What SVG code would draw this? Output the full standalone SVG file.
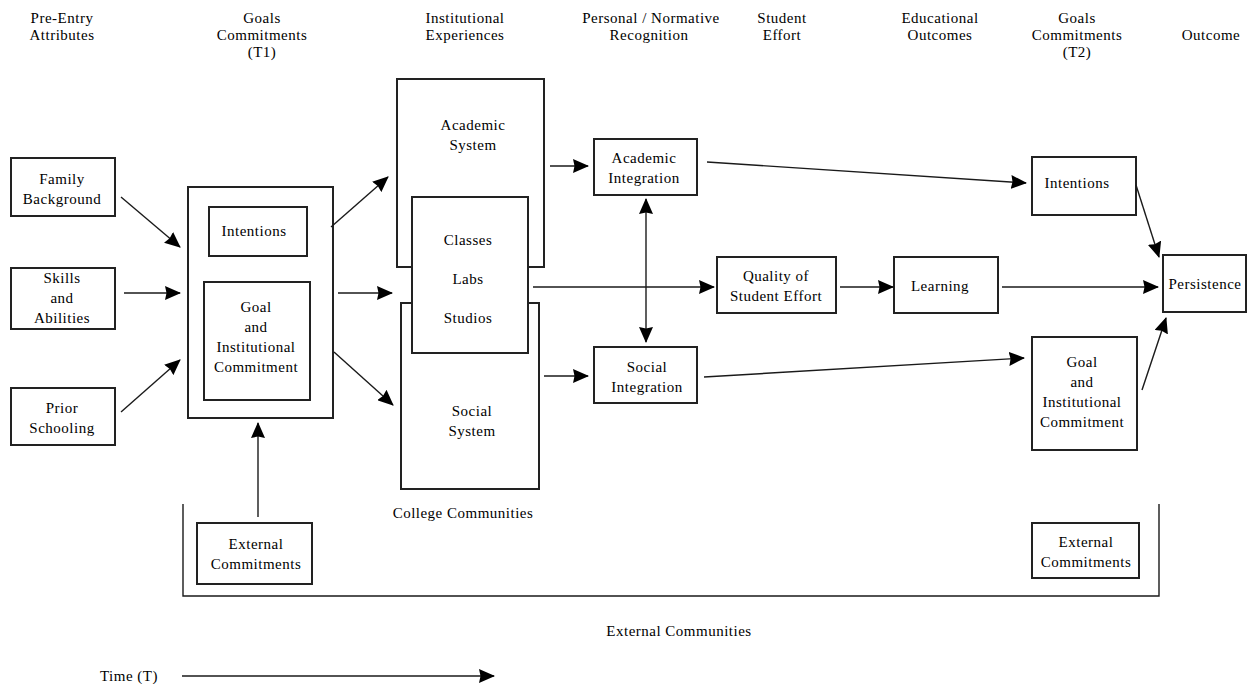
<svg xmlns="http://www.w3.org/2000/svg" width="1248" height="684" viewBox="0 0 1248 684">
<defs>
<style>
text{font-family:"Liberation Serif","Times New Roman",serif;font-size:15px;fill:#000;text-anchor:middle;letter-spacing:0.5px}
.box{fill:#fff;stroke:#222;stroke-width:2}
.ln{fill:none;stroke:#1a1a1a;stroke-width:1.4}
.arr{fill:none;stroke:#1a1a1a;stroke-width:1.4;marker-end:url(#ah)}
</style>
<marker id="ah" markerUnits="userSpaceOnUse" markerWidth="16" markerHeight="14" refX="15" refY="7" orient="auto-start-reverse" viewBox="0 0 16 14">
<path d="M0,0 L16,7 L0,14 L1.5,7 z" fill="#000"/>
</marker>
</defs>
<rect width="1248" height="684" fill="#fff"/>

<g id="headers">
<text x="62" y="23">Pre-Entry</text><text x="62" y="40">Attributes</text>
<text x="262" y="23">Goals</text><text x="262" y="40">Commitments</text><text x="262" y="57">(T1)</text>
<text x="465" y="23">Institutional</text><text x="465" y="40">Experiences</text>
<text x="651" y="23">Personal / Normative</text><text x="649" y="40">Recognition</text>
<text x="782" y="23">Student</text><text x="782" y="40">Effort</text>
<text x="940" y="23">Educational</text><text x="940" y="40">Outcomes</text>
<text x="1077" y="23">Goals</text><text x="1077" y="40">Commitments</text><text x="1077" y="57">(T2)</text>
<text x="1211" y="40">Outcome</text>
</g>

<g id="family-background">
<rect class="box" x="11" y="158" width="104" height="58"/>
<text x="62" y="184">Family</text><text x="62" y="204">Background</text>
</g>
<g id="skills-abilities">
<rect class="box" x="11" y="268" width="104" height="61"/>
<text x="62" y="283">Skills</text><text x="62" y="303">and</text><text x="62" y="323">Abilities</text>
</g>
<g id="prior-schooling">
<rect class="box" x="11" y="388" width="104" height="57"/>
<text x="62" y="413">Prior</text><text x="62" y="433">Schooling</text>
</g>

<g id="goals-commitments-t1">
<rect class="box" x="188" y="187" width="145" height="231"/>
</g>
<g id="intentions-t1">
<rect class="box" x="209" y="207" width="98" height="49"/>
<text x="254" y="236">Intentions</text>
</g>
<g id="goal-commitment-t1">
<rect class="box" x="204" y="282" width="106" height="118"/>
<text x="256" y="312">Goal</text><text x="256" y="332">and</text><text x="256" y="352">Institutional</text><text x="256" y="372">Commitment</text>
</g>

<g id="academic-system">
<rect class="box" x="397" y="79" width="147" height="188"/>
<text x="473" y="130">Academic</text><text x="473" y="150">System</text>
</g>
<g id="social-system">
<rect class="box" x="401" y="303" width="138" height="186"/>
<text x="472" y="416">Social</text><text x="472" y="436">System</text>
</g>
<g id="classes-labs-studios">
<rect class="box" x="412" y="197" width="116" height="156"/>
<text x="468" y="245">Classes</text><text x="468" y="284">Labs</text><text x="468" y="323">Studios</text>
</g>
<g id="college-communities">
<text x="463" y="518">College Communities</text>
</g>

<g id="academic-integration">
<rect class="box" x="594" y="139" width="103" height="56"/>
<text x="644" y="163">Academic</text><text x="644" y="183">Integration</text>
</g>
<g id="social-integration">
<rect class="box" x="594" y="347" width="103" height="56"/>
<text x="647" y="372">Social</text><text x="647" y="392">Integration</text>
</g>

<g id="quality-effort">
<rect class="box" x="717" y="257" width="119" height="56"/>
<text x="776" y="281">Quality of</text><text x="776" y="301">Student Effort</text>
</g>
<g id="learning">
<rect class="box" x="894" y="257" width="104" height="56"/>
<text x="940" y="291">Learning</text>
</g>

<g id="intentions-t2">
<rect class="box" x="1032" y="157" width="104" height="58"/>
<text x="1077" y="188">Intentions</text>
</g>
<g id="goal-commitment-t2">
<rect class="box" x="1032" y="337" width="105" height="113"/>
<text x="1082" y="367">Goal</text><text x="1082" y="387">and</text><text x="1082" y="407">Institutional</text><text x="1082" y="427">Commitment</text>
</g>
<g id="persistence">
<rect class="box" x="1163" y="255" width="83" height="57"/>
<text x="1205" y="289">Persistence</text>
</g>

<g id="external-communities">
<path class="ln" d="M183,504 V596 H1159 V504" stroke-width="1.8"/>
<text x="679" y="636">External Communities</text>
</g>
<g id="external-commitments-t1">
<rect class="box" x="197" y="523" width="115" height="61"/>
<text x="256" y="549">External</text><text x="256" y="569">Commitments</text>
</g>
<g id="external-commitments-t2">
<rect class="box" x="1032" y="523" width="107" height="55"/>
<text x="1086" y="547">External</text><text x="1086" y="567">Commitments</text>
</g>

<g id="time">
<text x="129" y="681">Time (T)</text>
</g>

<g id="connectors">
<line class="arr" x1="121" y1="197" x2="180" y2="247"/>
<line class="arr" x1="124" y1="293" x2="180" y2="293"/>
<line class="arr" x1="121" y1="412" x2="180" y2="360"/>
<line class="arr" x1="331" y1="227" x2="388" y2="177"/>
<line class="arr" x1="338" y1="293" x2="392" y2="293"/>
<line class="arr" x1="334" y1="352" x2="393" y2="405"/>
<line class="arr" x1="258" y1="517" x2="258" y2="423"/>
<line class="arr" x1="550" y1="166" x2="588" y2="166"/>
<line class="arr" x1="544" y1="376" x2="588" y2="376"/>
<line class="arr" x1="646" y1="199" x2="646" y2="342" style="marker-start:url(#ah)"/>
<line class="arr" x1="533" y1="287" x2="714" y2="287"/>
<line class="arr" x1="840" y1="287" x2="893" y2="287"/>
<line class="arr" x1="1002" y1="287" x2="1158" y2="287"/>
<line class="arr" x1="707" y1="162" x2="1026" y2="183"/>
<line class="arr" x1="704" y1="377" x2="1024" y2="358"/>
<line class="arr" x1="1136" y1="185" x2="1159" y2="257"/>
<line class="arr" x1="1142" y1="390" x2="1166" y2="318"/>
<line class="arr" x1="182" y1="676" x2="494" y2="676"/>
</g>
</svg>
